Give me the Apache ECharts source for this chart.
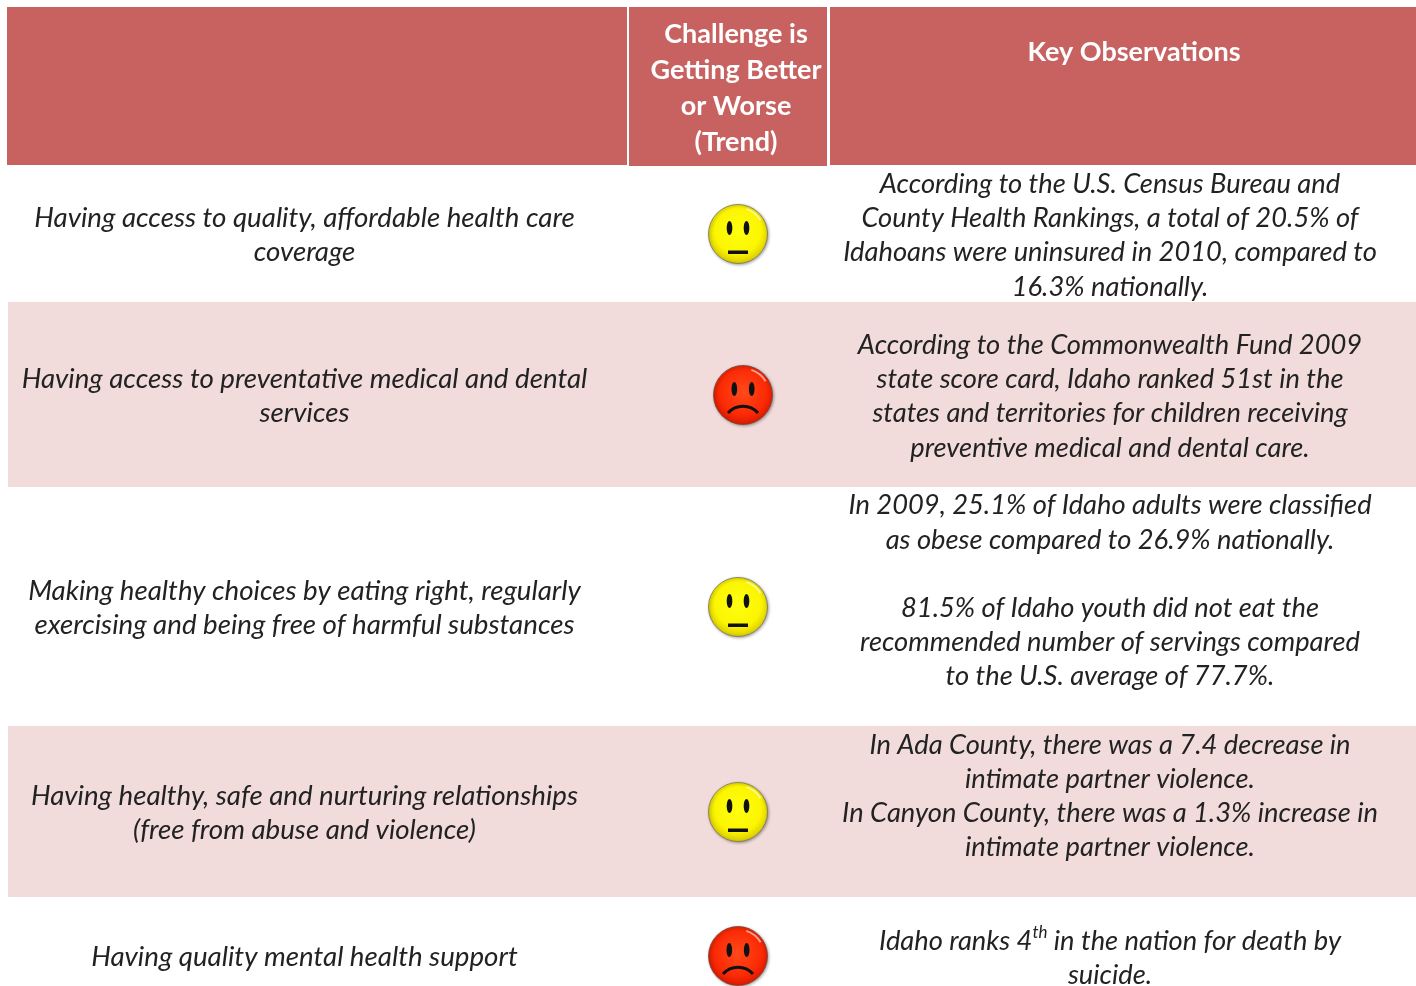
<!DOCTYPE html>
<html>
<head>
<meta charset="utf-8">
<title>Idaho health challenges</title>
<script src="https://cdn.jsdelivr.net/npm/echarts@6/dist/echarts.min.js"></script>
<style>
  html, body { margin: 0; padding: 0; background: #fff; overflow: hidden; }
  #chart { width: 1416px; height: 986px; }
</style>
</head>
<body>
<div id="chart"></div>
<script>
// table content
var headers = ['', 'Challenge is\nGetting Better\nor Worse\n(Trend)', 'Key Observations'];
var challenges = [
  'Having access to quality, affordable health care\ncoverage',
  'Having access to preventative medical and dental\nservices',
  'Making healthy choices by eating right, regularly\nexercising and being free of harmful substances',
  'Having healthy, safe and nurturing relationships\n(free from abuse and violence)',
  'Having quality mental health support'
];
var trends = ['neutral', 'worse', 'neutral', 'neutral', 'worse'];
var observations = [
  'According to the U.S. Census Bureau and\nCounty Health Rankings, a total of 20.5% of\nIdahoans were uninsured in 2010, compared to\n16.3% nationally.',
  'According to the Commonwealth Fund 2009\nstate score card, Idaho ranked 51st in the\nstates and territories for children receiving\npreventive medical and dental care.',
  'In 2009, 25.1% of Idaho adults were classified\nas obese compared to 26.9% nationally.\n\n81.5% of Idaho youth did not eat the\nrecommended number of servings compared\nto the U.S. average of 77.7%.',
  'In Ada County, there was a 7.4 decrease in\nintimate partner violence.\nIn Canyon County, there was a 1.3% increase in\nintimate partner violence.',
  'Idaho ranks 4{sup|th} in the nation for death by\nsuicide.'
];

// layout, in page pixels
var headerCols = [[7, 627, 165], [629, 827, 166], [830, 1416, 165]];
var headerTextPos = [[317, 88], [736, 88.5], [1134, 52.5]];
var bands = [[302, 487], [726, 897]];
var challengeY = [235, 396, 608, 813, 957];
var observationY = [235.5, 396.5, 591, 796, 958];
var faceCenters = [[738, 234], [743, 395], [738, 607], [738, 812], [738, 956]];
var LINE = 34.2;
var FONT = 'Lato, "Open Sans", sans-serif';

var myChart = echarts.init(document.getElementById('chart'), null, { renderer: 'canvas' });

function px(api, x, y) {
  return api.coord([x, y]);
}

function renderHeader(params, api) {
  var i = api.value(0);
  var c = headerCols[i];
  var tl = px(api, c[0], 7), br = px(api, c[1], c[2]);
  var pos = px(api, headerTextPos[i][0], headerTextPos[i][1]);
  return {
    type: 'group',
    children: [
      { type: 'rect', shape: { x: tl[0], y: tl[1], width: br[0] - tl[0], height: br[1] - tl[1] }, style: { fill: '#c76261' } },
      { type: 'text', x: pos[0], y: pos[1], style: {
        text: headers[i], fill: '#fff', font: 'bold 27px ' + FONT,
        align: 'center', verticalAlign: 'middle', lineHeight: 36 } }
    ]
  };
}

function renderBand(params, api) {
  var tl = px(api, 8, api.value(0)), br = px(api, 1416, api.value(1));
  return { type: 'rect', shape: { x: tl[0], y: tl[1], width: br[0] - tl[0], height: br[1] - tl[1] }, style: { fill: '#f1dcdb' } };
}

function cellText(x, y, text, size) {
  return {
    type: 'text', x: x, y: y,
    style: {
      text: text, fill: '#222', font: 'italic ' + size + 'px ' + FONT,
      align: 'center', verticalAlign: 'middle', lineHeight: LINE,
      rich: {
        sup: { font: 'italic 17px ' + FONT, fill: '#222', verticalAlign: 'top', lineHeight: 16, padding: [0, 0, 12, 0] }
      }
    }
  };
}

function renderRow(params, api) {
  var i = api.value(0);
  var left = px(api, 304.5, challengeY[i]);
  var right = px(api, 1110, observationY[i]);
  return {
    type: 'group',
    children: [cellText(left[0], left[1], challenges[i], 27.7), cellText(right[0], right[1], observations[i], 27.3)]
  };
}

// face is built around its centre, r = 30
function renderFace(params, api) {
  var i = api.value(0);
  var c = px(api, faceCenters[i][0], faceCenters[i][1]);
  var worse = trends[i] === 'worse';
  var stops = worse
    ? [{ offset: 0, color: '#ff4a1a' }, { offset: 0.7, color: '#fb2a05' }, { offset: 1, color: '#d81800' }]
    : [{ offset: 0, color: '#ffff10' }, { offset: 0.7, color: '#fbf500' }, { offset: 1, color: '#d8c800' }];
  var dx = worse ? 8.7 : 8.5;
  var children = [
    { type: 'circle', shape: { cx: 0, cy: 0, r: 29.5 }, style: {
      fill: new echarts.graphic.RadialGradient(0.5, 0.45, 0.55, stops),
      stroke: worse ? 'rgba(120,70,60,0.8)' : 'rgba(120,120,100,0.8)', lineWidth: 1,
      shadowColor: 'rgba(0,0,0,0.35)', shadowBlur: 3, shadowOffsetX: 1, shadowOffsetY: 1 } },
    { type: 'arc', shape: { cx: 0, cy: 0, r: 26.5, startAngle: -1.25, endAngle: -0.55 }, style: { fill: null, stroke: 'rgba(255,255,255,0.55)', lineWidth: 2 } },
    { type: 'ellipse', shape: { cx: -dx, cy: -6, rx: 2.8, ry: 7 }, style: { fill: '#111' } },
    { type: 'ellipse', shape: { cx: dx, cy: -6, rx: 2.8, ry: 7 }, style: { fill: '#111' } }
  ];
  if (worse) {
    children.push({ type: 'bezierCurve', shape: { x1: -15, y1: 18, cpx1: -7, cpy1: 9, cpx2: 7, cpy2: 9, x2: 15, y2: 18 }, style: { fill: null, stroke: '#111', lineWidth: 3 } });
  } else {
    children.push({ type: 'rect', shape: { x: -10, y: 16.5, width: 20, height: 3.5 }, style: { fill: '#111' } });
  }
  return { type: 'group', x: c[0], y: c[1], children: children };
}

var rowIndex = challenges.map(function (d, i) { return [i]; });
var colIndex = headers.map(function (d, i) { return [i]; });

var option = {
  animation: false,
  backgroundColor: '#fff',
  grid: { left: 0, right: 0, top: 0, bottom: 0 },
  xAxis: { type: 'value', min: 0, max: 1416, show: false },
  yAxis: { type: 'value', min: 0, max: 986, inverse: true, show: false },
  series: [
    { type: 'custom', silent: true, clip: false, renderItem: renderBand, data: bands, z: 1 },
    { type: 'custom', silent: true, clip: false, renderItem: renderHeader, data: colIndex, z: 2 },
    { type: 'custom', silent: true, clip: false, renderItem: renderRow, data: rowIndex, z: 3 },
    { type: 'custom', silent: true, clip: true, renderItem: renderFace, data: rowIndex, z: 3 }
  ]
};
myChart.setOption(option);
</script>
</body>
</html>
